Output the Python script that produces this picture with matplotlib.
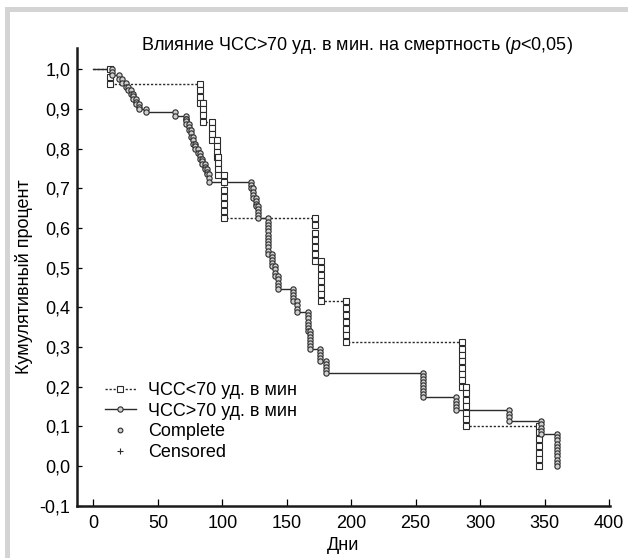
import numpy as np
import matplotlib
matplotlib.use("Agg")
import matplotlib.pyplot as plt
from matplotlib.patches import Rectangle
from matplotlib.lines import Line2D

plt.rcParams['font.family'] = ['Liberation Sans', 'DejaVu Sans']
plt.rcParams['mathtext.fontset'] = 'custom'
plt.rcParams['mathtext.it'] = 'Liberation Sans:italic'
plt.rcParams['mathtext.rm'] = 'Liberation Sans'

# ЧСС<70 уд. в мин: days of events and cumulative proportion after each
low_days = [13, 82.4, 85, 92, 95.7, 97, 101.6, 171.8, 176.2, 195.7, 286, 289, 345.8]
low_surv = [0.963, 0.915, 0.868, 0.822, 0.778, 0.733, 0.625, 0.516, 0.416,
            0.312, 0.200, 0.102, 0.0]

# ЧСС>70 уд. в мин
high_days = [14.6, 20, 22, 25, 27, 29, 31, 33, 35, 41, 63, 71.5, 72, 74, 75.5,
             77, 79, 81, 82.5, 84.5, 86.5, 88, 89.5, 122, 124, 126, 128, 135.6,
             138.6, 141, 143.5, 154.6, 157.8, 166.8, 168, 175.7, 180.8, 255.5,
             281.3, 322.7, 347, 359.3]
high_surv = [0.985, 0.975, 0.965, 0.955, 0.947, 0.938, 0.925, 0.912, 0.900,
             0.893, 0.882, 0.875, 0.862, 0.848, 0.830, 0.812, 0.800, 0.790,
             0.775, 0.762, 0.748, 0.735, 0.716, 0.700, 0.675, 0.655, 0.624,
             0.535, 0.505, 0.478, 0.447, 0.415, 0.388, 0.340, 0.296, 0.265,
             0.234, 0.173, 0.141, 0.113, 0.081, 0.0]

yticks = np.round(np.arange(-0.1, 1.01, 0.1), 1)
ytick_labels = [f"{v:.1f}".replace(".", ",") for v in yticks]
xticks = list(range(0, 401, 50))

line_col = '#2b2b2b'

fig = plt.figure(figsize=(6.28, 5.58), dpi=100)
# grey frame of the panel
fig.add_artist(Rectangle((5 / 628, 0), 5 / 628, 1 - 7.3 / 558,
                         transform=fig.transFigure, color='#d4d4d4', lw=0))
fig.add_artist(Rectangle((5 / 628, 1 - 11.7 / 558), 1, 4.4 / 558,
                         transform=fig.transFigure, color='#d4d4d4', lw=0))

ax = fig.add_axes([76.7 / 628, 1 - 505.7 / 558, 533.3 / 628, 457.4 / 558])


def km(ax, days, surv, ls, marker, mfc, ms, step):
    xs = [0] + list(days)
    ys = [1.0] + list(surv)
    ax.step(xs, ys, where='post', color=line_col, lw=1.0, ls=ls, zorder=2)
    for i, d in enumerate(days):
        prev, cur = ys[i], ys[i + 1]
        m = max(2, int(round((prev - cur) / step)) + 1)
        yy = np.linspace(prev, cur, m)
        ax.plot([d] * m, yy, ls='none', marker=marker, ms=ms, mfc=mfc,
                mec=line_col, mew=0.8, zorder=3)


km(ax, low_days, low_surv, (0, (1.6, 1.3)), 's', 'white', 4.6, 0.017)
km(ax, high_days, high_surv, '-', 'o', '#cfcfcf', 3.8, 0.008)

ax.set_xlim(-13.0, 400.8)
ax.set_ylim(-0.1, 1.053)
ax.set_xticks(xticks)
ax.set_yticks(yticks)
ax.set_yticklabels(ytick_labels)
for s in ['top', 'right']:
    ax.spines[s].set_visible(False)
for s in ['left', 'bottom']:
    ax.spines[s].set_linewidth(1.8)
    ax.spines[s].set_color('#1a1a1a')
ax.tick_params(axis='x', direction='in', length=5, width=0.9, pad=7,
               labelsize=13)
ax.tick_params(axis='y', direction='in', length=3.5, width=0.9, pad=4.5,
               labelsize=13)

ax.set_xlabel("Дни", fontsize=13, labelpad=3)
ax.set_ylabel("Кумулятивный процент", fontsize=13, labelpad=5)

fig.text(357 / 628, 1 - 45 / 558,
         "Влияние ЧСС>70 уд. в мин. на смертность ($\\mathit{p}$<0,05)",
         ha='center', va='center', fontsize=13)

handles = [
    Line2D([], [], color=line_col, lw=1.0, ls=(0, (1.6, 1.3)), marker='s',
           ms=4.6, mfc='white', mec=line_col, mew=0.8),
    Line2D([], [], color=line_col, lw=1.0, ls='-', marker='o', ms=3.8,
           mfc='#cfcfcf', mec=line_col, mew=0.8),
    Line2D([], [], ls='none', marker='o', ms=3.4, mfc='#cfcfcf',
           mec=line_col, mew=0.8),
    Line2D([], [], ls='none', marker='+', ms=4, mec=line_col, mew=0.8),
]
labels = ["ЧСС<70 уд. в мин", "ЧСС>70 уд. в мин", "Complete", "Censored"]
ax.legend(handles, labels, loc='upper left', bbox_to_anchor=(0.053, 0.27),
          frameon=False, fontsize=13, handlelength=1.7, handletextpad=0.68,
          labelspacing=0.2, borderaxespad=0, borderpad=0)

fig.savefig("out.png", dpi=100)
